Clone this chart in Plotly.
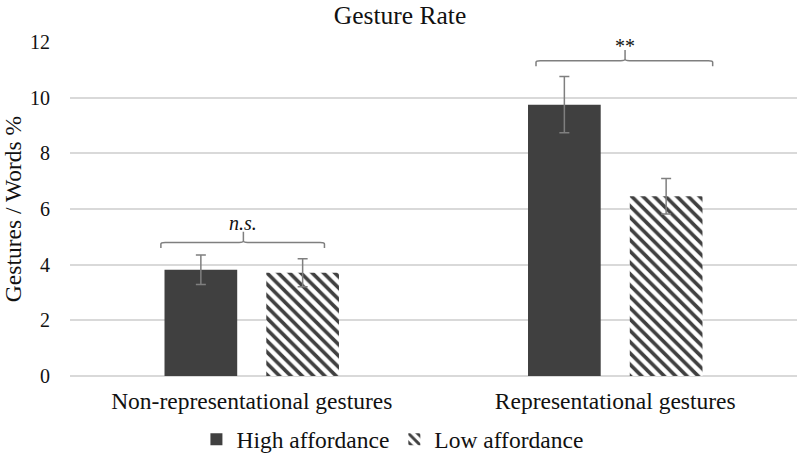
import plotly.graph_objects as go

categories = ["Non-representational gestures", "Representational gestures"]
series_names = ["High affordance", "Low affordance"]
high_values = [3.82, 9.75]
high_errors = [0.53, 1.01]
low_values = [3.71, 6.46]
low_errors = [0.50, 0.64]
y_ticks = [0, 2, 4, 6, 8, 10, 12]
sig_labels = ["<i>n.s.</i>", "**"]
# bracket: (x_left, x_right, x_center offsets relative to category index, y level)
brackets = [(-0.25, 0.20, -0.023, 4.80), (-0.218, 0.268, 0.027, 11.33)]

FONT = "Times New Roman, Liberation Serif, serif"
DARK = "#404040"
GRID = "#d9d9d9"
ERR = "#7f7f7f"
TXT = "#111111"

fig = go.Figure()
fig.add_trace(go.Bar(
    name=series_names[0], x=categories, y=high_values,
    width=0.2, offset=-0.24,
    marker=dict(color=DARK, line=dict(width=0)),
    error_y=dict(type="data", array=high_errors, color=ERR, thickness=1.5, width=5),
))
fig.add_trace(go.Bar(
    name=series_names[1], x=categories, y=low_values,
    width=0.2, offset=0.04,
    marker=dict(color="white", line=dict(width=0),
                pattern=dict(shape="\\", fgcolor=DARK, bgcolor="white",
                             size=8, solidity=0.45, fillmode="replace")),
    error_y=dict(type="data", array=low_errors, color=ERR, thickness=1.5, width=5),
))

shapes = []
annotations = []
for i, (xl, xr, xc, yb) in enumerate(brackets):
    drop = 0.2
    up = 0.38
    r = 0.012
    path = (f"M {i+xl},{yb-drop} L {i+xl},{yb-0.06} Q {i+xl},{yb} {i+xl+r},{yb} "
            f"L {i+xc-r},{yb} Q {i+xc},{yb} {i+xc},{yb+0.06} L {i+xc},{yb+up} "
            f"M {i+xc},{yb+0.06} Q {i+xc},{yb} {i+xc+r},{yb} "
            f"L {i+xr-r},{yb} Q {i+xr},{yb} {i+xr},{yb-0.06} L {i+xr},{yb-drop}")
    shapes.append(dict(type="path", path=path, xref="x", yref="y",
                       line=dict(color=ERR, width=1.5)))
    annotations.append(dict(x=i + xc, y=yb + up, xref="x", yref="y",
                            text=sig_labels[i], showarrow=False, yanchor="bottom",
                            yshift=-4 if i == 0 else -9,
                            font=dict(family=FONT, size=20, color=TXT)))

fig.update_layout(
    width=800, height=456,
    margin=dict(l=70, r=3, t=42, b=80, autoexpand=False),
    paper_bgcolor="white", plot_bgcolor="white",
    font=dict(family=FONT, size=23.5, color=TXT),
    title=dict(text="Gesture Rate", x=0.5, xanchor="center", y=1 - 15 / 456,
               yanchor="middle", font=dict(family=FONT, size=25.5, color=TXT)),
    barmode="group",
    shapes=shapes, annotations=annotations,
    legend=dict(orientation="h", x=0.4435, xanchor="center",
                y=-0.19, yanchor="middle",
                font=dict(family=FONT, size=23.5, color=TXT), itemwidth=30,
                traceorder="normal"),
)
fig.update_yaxes(range=[0, 12], tickvals=y_ticks, showgrid=True, gridcolor=GRID,
                 gridwidth=1.5, zeroline=True, zerolinecolor=GRID, zerolinewidth=1.5,
                 showline=False, ticklabelstandoff=19, automargin=False,
                 tickfont=dict(family=FONT, size=20, color=TXT),
                 title=dict(text="Gestures / Words %", standoff=3,
                            font=dict(family=FONT, size=23.5, color=TXT)))
fig.update_xaxes(showgrid=False, showline=False, ticklabelstandoff=8, automargin=False,
                 tickfont=dict(family=FONT, size=23.5, color=TXT),
                 range=[-0.5, 1.5])

fig.write_html("out.html", config={"displayModeBar": False},
               post_script="document.body.style.margin='0';")
